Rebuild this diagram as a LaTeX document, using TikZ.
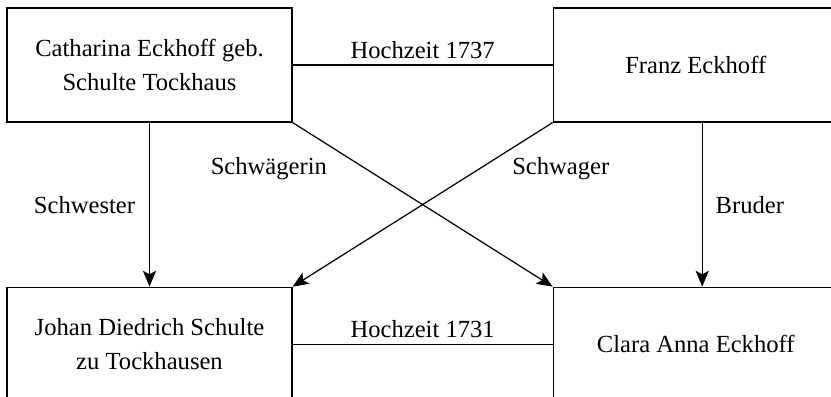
\documentclass[tikz,border=0pt]{standalone}
\usepackage{fontspec}
\setmainfont{Liberation Serif}
\usetikzlibrary{positioning,arrows.meta}

\begin{document}
\begin{tikzpicture}[>={Stealth[length=9pt,width=7.5pt,inset=2pt]},line width=0.7pt,
		person/.style={draw,minimum width=5.7cm,minimum height=2.28cm,align=center,
			font=\fontsize{14}{19}\selectfont},
		rel/.style={font=\fontsize{14}{17}\selectfont}]
	\useasboundingbox (0,0) rectangle (16.62,7.94);
	\clip (0,0) rectangle (16.62,7.94);
	\node[person] (catharina) at (2.99,6.64) {Catharina Eckhoff geb.\\Schulte Tockhaus};
	\node[person,right=5.2cm of catharina] (franz) {Franz Eckhoff};
	\node[person,below=3.28cm of catharina] (johan) {Johan Diedrich Schulte\\zu Tockhausen};
	\node[person,below=3.28cm of franz] (clara) {Clara Anna Eckhoff};
	\draw (catharina) -- (franz) node[midway,above,rel]{Hochzeit 1737};
	\draw (johan) -- (clara) node[midway,above,rel]{Hochzeit 1731};
	\draw[->] (catharina) -- (johan) node[midway,left=0.16cm,rel]{Schwester};
	\draw[->] ([xshift=0.13cm]franz.south) -- ([xshift=0.13cm]clara.north) node[midway,right=0.14cm,rel]{Bruder};
	\draw[->] (catharina.south east) -- (clara.north west) node[pos=0.28,left=0.64cm,rel]{Schwägerin};
	\draw[->] (franz.south west) -- (johan.north east) node[pos=0.28,right=0.52cm,rel]{Schwager};
\end{tikzpicture}
\end{document}
